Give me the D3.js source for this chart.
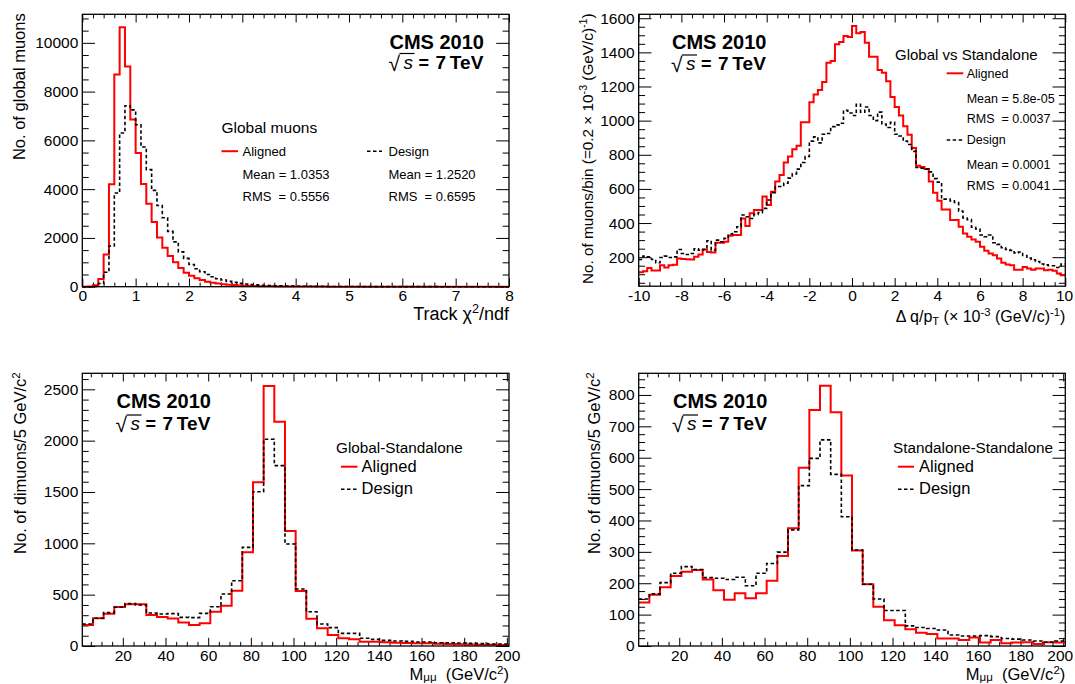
<!DOCTYPE html>
<html><head><meta charset="utf-8">
<script src="https://cdn.jsdelivr.net/npm/d3@7/dist/d3.min.js"></script>
<style>
body{margin:0;background:#fff}
svg{display:block}
text{font-family:"Liberation Sans",Arial,Helvetica,sans-serif;fill:#000;white-space:pre}
</style>
</head><body>
<svg id="c" width="1075" height="684"></svg>
<script>
// ---------------- DATA ----------------
// Panel 1: track chi2/ndf, 80 bins from 0 to 8
const chi2Range = [0, 8];
const chi2Aligned = [0,10,60,320,1320,4200,8700,10640,9030,6860,
  5480,4210,3400,2650,2015,1600,1255,1000,765,572,
  450,345,272,205,165,130,105,82,65,52,
  42,34,28,23,19,16,13,11,9,8,
  7,6,5,5,4,4,3,3,3,2,
  2,2,2,2,1,1,1,1,1,1,
  1,1,1,1,1,1,0,0,0,0,
  0,0,0,0,0,0,0,0,0,0];
const chi2Design = [0,0,10,130,590,1670,3840,6300,7420,7250,
  6640,5730,4800,3950,3330,2830,2270,1840,1430,1160,
  910,735,612,503,408,326,272,218,177,136,
  109,90,75,62,52,44,38,33,28,24,
  21,18,16,14,12,11,10,9,8,7,
  6,6,5,5,4,4,4,3,3,3,
  3,2,2,2,2,2,2,1,1,1,
  1,1,1,1,1,1,1,1,1,1];
const chi2XTicks = [0,1,2,3,4,5,6,7,8];
const chi2YTicks = [0,2000,4000,6000,8000,10000];

// Panel 2: delta q/pT, 100 bins from -10 to 10
const dqRange = [-10, 10];
const dqAligned = [112,118,137,122,122,153,139,153,155,192,
  190,188,186,202,216,245,231,227,284,284,
  290,325,330,330,427,382,457,476,476,555,
  506,584,643,682,755,790,833,853,990,990,
  1108,1153,1179,1226,1339,1349,1447,1461,1496,1490,
  1555,1512,1520,1457,1375,1375,1296,1280,1231,1139,
  1080,1030,967,918,839,735,728,716,643,578,
  531,480,480,418,418,378,339,320,304,290,
  261,237,222,212,192,167,157,153,127,127,
  143,133,127,133,133,124,127,120,104,94];
const dqDesign = [186,206,202,186,167,198,206,198,202,245,
  222,216,222,249,241,245,296,241,300,290,
  310,335,349,378,447,437,427,451,461,486,
  535,578,614,614,633,663,688,716,755,790,
  880,905,870,920,925,965,975,985,1060,1045,
  1030,1095,1050,1080,1030,1000,1050,980,960,990,
  920,910,880,860,820,725,722,716,700,660,
  640,540,540,530,520,470,430,420,375,365,
  330,320,330,285,275,255,245,240,225,230,
  210,195,185,175,160,155,150,150,140,160];
const dqXTicks = [-10,-8,-6,-4,-2,0,2,4,6,8,10];
const dqYTicks = [200,400,600,800,1000,1200,1400,1600];

// Panels 3 and 4: dimuon mass, 40 bins of 5 GeV from 1 to 201
const massRange = [1, 201];
const gsAligned = [205,270,315,380,406,406,302,282,268,228,205,222,334,393,537,912,1594,2533,2185,1120,
  536,265,172,107,75,66,42,42,36,32,29,26,26,23,19,17,15,13,12,10];
const gsDesign = [214,270,325,377,413,400,322,312,315,279,276,318,383,506,636,961,1503,2013,1757,994,
  555,334,214,179,123,123,75,65,55,49,45,39,39,32,32,29,26,23,20,20];
const ssAligned = [139,163,187,223,237,242,212,178,147,168,152,168,208,287,375,568,752,829,745,543,
  304,197,125,82,66,53,42,38,24,24,19,27,11,19,9,11,12,6,12,11];
const ssDesign = [150,166,202,232,253,244,218,216,212,219,192,232,263,299,370,511,598,657,547,412,
  306,197,150,113,113,64,59,56,51,35,32,32,33,30,24,22,19,16,12,16];
const massXTicks = [20,40,60,80,100,120,140,160,180,200];
const gsYTicks = [0,500,1000,1500,2000,2500];
const ssYTicks = [0,100,200,300,400,500,600,700,800];

// ---------------- DRAWING ----------------
const svg = d3.select("#c");
const RED = "#ff0000";
const PAGE_W = 1075;

function rich(textSel, segs, size, supK = 0.38, subK = 0.18) {
  let shift = 0;
  segs.forEach(s => {
    const ts = textSel.append("tspan").text(s.t);
    let target = 0;
    if (s.sup) target = -size * supK;
    if (s.sub) target = size * subK;
    if (s.sup || s.sub) ts.attr("font-size", size * 0.7);
    if (s.italic) ts.attr("font-style", "italic");
    if (s.bold) ts.attr("font-weight", "bold");
    if (target !== shift) { ts.attr("dy", target - shift); shift = target; }
  });
  return textSel;
}

function label(g, x, y, str, size, opt = {}) {
  const t = g.append("text").attr("x", x).attr("y", y).attr("font-size", size);
  if (opt.bold) t.attr("font-weight", "bold");
  if (opt.anchor) t.attr("text-anchor", opt.anchor);
  t.text(str);
  return t;
}

function cmsLabel(g, x, y1, y2) {
  label(g, x, y1, "CMS 2010", 20, {bold: true});
  label(g, x - 1, y2 + 2, "\u221A", 21);
  g.append("text").attr("x", x + 14).attr("y", y2).attr("font-size", 19)
    .attr("font-style", "italic").text("s");
  g.append("line").attr("x1", x + 10).attr("x2", x + 25)
    .attr("y1", y2 - 15).attr("y2", y2 - 15).attr("stroke", "#000").attr("stroke-width", 1.2);
  label(g, x + 29, y2, "=", 18, {bold: true});
  label(g, x + 46, y2, "7\u2009TeV", 19, {bold: true});
}

function legendLine(g, x1, x2, y, dashed) {
  g.append("line").attr("x1", x1).attr("x2", x2).attr("y1", y).attr("y2", y)
    .attr("stroke", dashed ? "#000" : RED)
    .attr("stroke-width", dashed ? 1.6 : 2)
    .attr("stroke-dasharray", dashed ? "3.5,2.5" : null);
}

function panel(cfg) {
  const g = svg.append("g");
  const x = d3.scaleLinear().domain(cfg.xDomain).range([cfg.left, cfg.right]);
  const y = d3.scaleLinear().domain(cfg.yDomain).range([cfg.bottom, cfg.top]);
  const W = cfg.right - cfg.left, H = cfg.bottom - cfg.top;
  const yMaj = 0.03 * W, yMin = yMaj / 2, xMaj = 0.03 * H, xMin = xMaj / 2;

  const xMinor = d3.range(Math.ceil(cfg.xDomain[0] / cfg.xMinorStep) * cfg.xMinorStep,
    cfg.xDomain[1] + 1e-9, cfg.xMinorStep).filter(v => !cfg.xTicks.some(t => Math.abs(t - v) < 1e-9));
  const yMinor = d3.range(Math.ceil(cfg.yDomain[0] / cfg.yMinorStep) * cfg.yMinorStep,
    cfg.yDomain[1] + 1e-9, cfg.yMinorStep).filter(v => !cfg.yTicks.some(t => Math.abs(t - v) < 1e-9));

  const fmt = d => String(d);
  const axes = [
    [d3.axisLeft(y).tickValues(cfg.yTicks).tickSize(-yMaj).tickPadding(4).tickFormat(fmt), cfg.left, 0],
    [d3.axisLeft(y).tickValues(yMinor).tickSize(-yMin).tickFormat(""), cfg.left, 0],
    [d3.axisRight(y).tickValues(cfg.yTicks).tickSize(-yMaj).tickFormat(""), cfg.right, 0],
    [d3.axisRight(y).tickValues(yMinor).tickSize(-yMin).tickFormat(""), cfg.right, 0],
    [d3.axisBottom(x).tickValues(cfg.xTicks).tickSize(-xMaj).tickPadding(3.5).tickFormat(fmt), 0, cfg.bottom],
    [d3.axisBottom(x).tickValues(xMinor).tickSize(-xMin).tickFormat(""), 0, cfg.bottom],
    [d3.axisTop(x).tickValues(cfg.xTicks).tickSize(-xMaj).tickFormat(""), 0, cfg.top],
    [d3.axisTop(x).tickValues(xMinor).tickSize(-xMin).tickFormat(""), 0, cfg.top]
  ];
  axes.forEach(([ax, tx, ty]) => {
    const a = g.append("g").attr("transform", `translate(${tx},${ty})`).call(ax);
    a.select(".domain").remove();
    a.selectAll(".tick line").attr("stroke", "#000").attr("stroke-width", 1);
    a.selectAll("text").attr("font-size", 15.5).attr("fill", "#000")
      .attr("font-family", '"Liberation Sans",Arial,sans-serif');
    // keep tick labels inside the page
    a.selectAll(".tick text").each(function () {
      const r = this.getBoundingClientRect();
      if (r.right > PAGE_W - 1) d3.select(this).attr("dx", -(r.right - PAGE_W + 1.5));
    });
  });

  // histograms
  const line = d3.line().x(d => x(d[0])).y(d => y(d[1])).curve(d3.curveStepAfter);
  cfg.series.forEach(s => {
    const n = s.values.length;
    const w = (cfg.xDomain[1] - cfg.xDomain[0]) / n;
    const pts = s.values.map((v, i) => [cfg.xDomain[0] + i * w, v]);
    pts.push([cfg.xDomain[1], s.values[n - 1]]);
    g.append("path").attr("d", line(pts)).attr("fill", "none")
      .attr("stroke", s.color).attr("stroke-width", s.width)
      .attr("stroke-dasharray", s.dash || null);
  });

  // frame
  g.append("rect").attr("x", cfg.left).attr("y", cfg.top).attr("width", W).attr("height", H)
    .attr("fill", "none").attr("stroke", "#000").attr("stroke-width", 1.3);

  // axis titles
  const xt = g.append("text").attr("x", cfg.right).attr("y", cfg.xTitleY)
    .attr("text-anchor", "end").attr("font-size", cfg.xTitleSize);
  rich(xt, cfg.xTitle, cfg.xTitleSize, cfg.supK || 0.38, cfg.subK || 0.18);
  const yt = g.append("text").attr("transform", `translate(${cfg.yTitleX},${cfg.top - 1}) rotate(-90)`)
    .attr("text-anchor", "end").attr("font-size", cfg.yTitleSize);
  rich(yt, cfg.yTitle, cfg.yTitleSize);
  return g;
}

const alignedStyle = {color: RED, width: 2};
const designStyle = {color: "#000", width: 1.6, dash: "3.5,2.5"};

// Panel 1
const g1 = panel({
  left: 82.3, right: 509, top: 14.3, bottom: 286.7,
  xDomain: chi2Range, yDomain: [0, 11170],
  xTicks: chi2XTicks, yTicks: chi2YTicks, xMinorStep: 0.2, yMinorStep: 500,
  series: [Object.assign({values: chi2Aligned}, alignedStyle), Object.assign({values: chi2Design}, designStyle)],
  xTitle: [{t: "Track "}, {t: "\u03C7"}, {t: "2", sup: true}, {t: "/ndf"}], xTitleY: 320, xTitleSize: 18,
  yTitle: [{t: "No. of global muons"}], yTitleX: 25, yTitleSize: 16.5
});
cmsLabel(g1, 389.5, 48.5, 68.5);
label(g1, 221.5, 132.7, "Global muons", 15.5);
legendLine(g1, 221.5, 238, 151.2, false);
label(g1, 242.5, 155.5, "Aligned", 13);
label(g1, 242.5, 178.5, "Mean = 1.0353", 13);
label(g1, 242.5, 201.3, "RMS  = 0.5556", 13);
legendLine(g1, 367, 382, 151.2, true);
label(g1, 388.5, 155.5, "Design", 13);
label(g1, 388.5, 178.5, "Mean = 1.2520", 13);
label(g1, 388.5, 201.3, "RMS  = 0.6595", 13);

// Panel 2
const g2 = panel({
  left: 638.7, right: 1065.3, top: 14.3, bottom: 286.2,
  xDomain: dqRange, yDomain: [30, 1623],
  xTicks: dqXTicks, yTicks: dqYTicks, xMinorStep: 0.5, yMinorStep: 50,
  series: [Object.assign({values: dqAligned}, alignedStyle), Object.assign({values: dqDesign}, designStyle)],
  xTitle: [{t: "\u0394 q/p"}, {t: "T", sub: true}, {t: " (\u00D7 10"}, {t: "-3", sup: true}, {t: " (GeV/c)"}, {t: "-1", sup: true}, {t: ")"}],
  xTitleY: 322, xTitleSize: 16,
  yTitle: [{t: "No. of muons/bin (=0.2 \u00D7 10"}, {t: "-3", sup: true}, {t: " (GeV/c)"}, {t: "-1", sup: true}, {t: ")"}],
  yTitleX: 593, yTitleSize: 15.3
});
cmsLabel(g2, 672, 49.3, 70);
label(g2, 895, 60, "Global vs Standalone", 15);
legendLine(g2, 946.7, 963.3, 73.3, false);
label(g2, 966.7, 77.7, "Aligned", 12.5);
label(g2, 966.7, 102.7, "Mean = 5.8e-05", 12.5);
label(g2, 966.7, 123.3, "RMS  = 0.0037", 12.5);
legendLine(g2, 946.7, 963.3, 140, true);
label(g2, 966.7, 144.3, "Design", 12.5);
label(g2, 966.7, 169.3, "Mean = 0.0001", 12.5);
label(g2, 966.7, 190, "RMS  = 0.0041", 12.5);

const massXTitle = [{t: "M"}, {t: "\u03BC\u03BC", sub: true}, {t: "  (GeV/c"}, {t: "2", sup: true}, {t: ")"}];
const massYTitle = [{t: "No. of dimuons/5 GeV/c"}, {t: "2", sup: true}];

// Panel 3
const g3 = panel({
  left: 82.3, right: 509, top: 373.3, bottom: 646,
  xDomain: massRange, yDomain: [0, 2656],
  xTicks: massXTicks, yTicks: gsYTicks, xMinorStep: 5, yMinorStep: 100,
  series: [Object.assign({values: gsAligned}, alignedStyle), Object.assign({values: gsDesign}, designStyle)],
  xTitle: massXTitle, xTitleY: 679.5, xTitleSize: 16.5, supK: 0.32, subK: 0.12,
  yTitle: massYTitle, yTitleX: 26, yTitleSize: 16.5
});
cmsLabel(g3, 116.5, 408.3, 430);
label(g3, 336, 453.3, "Global-Standalone", 15.3);
legendLine(g3, 341, 357.5, 466.7, false);
label(g3, 361.6, 471.7, "Aligned", 16.5);
legendLine(g3, 341, 357.5, 489.3, true);
label(g3, 361.6, 494, "Design", 16.5);

// Panel 4
const g4 = panel({
  left: 638.7, right: 1065.3, top: 373.3, bottom: 646,
  xDomain: massRange, yDomain: [0, 869],
  xTicks: massXTicks, yTicks: ssYTicks, xMinorStep: 5, yMinorStep: 25,
  series: [Object.assign({values: ssAligned}, alignedStyle), Object.assign({values: ssDesign}, designStyle)],
  xTitle: massXTitle, xTitleY: 679.5, xTitleSize: 16.5, supK: 0.32, subK: 0.12,
  yTitle: massYTitle, yTitleX: 600, yTitleSize: 16.5
});
cmsLabel(g4, 673, 408.3, 430);
label(g4, 893, 453.3, "Standalone-Standalone", 15.3);
legendLine(g4, 898, 914, 466.7, false);
label(g4, 919, 471.7, "Aligned", 16.5);
legendLine(g4, 898, 914, 489.3, true);
label(g4, 919, 494, "Design", 16.5);
</script>
</body></html>
